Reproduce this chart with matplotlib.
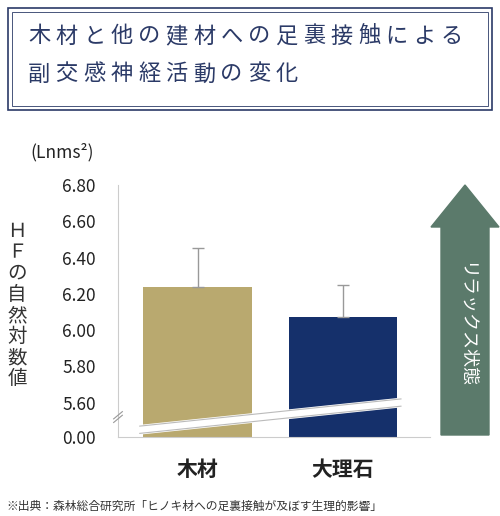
import matplotlib.pyplot as plt
from matplotlib.patches import Rectangle, FancyArrow
import numpy as np

plt.rcParams['font.family'] = ['Noto Sans CJK JP', 'DejaVu Sans']

categories = ['木材', '大理石']
values = [6.24, 6.07]
errors = [0.21, 0.18]
tick_vals = [5.60, 5.80, 6.00, 6.20, 6.40, 6.60, 6.80]
colors = ['#b9a96f', '#15306b']
navy = '#2b3a67'
ZERO = 5.41  # where 0.00 sits on the broken axis

fig = plt.figure(figsize=(5.0, 5.16), dpi=100)

# title box (double border)
fig.patches.append(Rectangle((8/500, 1-110/516), 484/500, 102/516, transform=fig.transFigure,
                             fill=False, ec=navy, lw=1.2))
fig.patches.append(Rectangle((12/500, 1-106/516), 476/500, 94/516, transform=fig.transFigure,
                             fill=False, ec=navy, lw=0.6))
title1 = '木材と他の建材への足裏接触による'
title2 = '副交感神経活動の変化'
for i, ch in enumerate(title1):
    fig.text((28 + i*27.5)/500, 1-36/516, ch, color=navy, fontsize=16, va='center')
for i, ch in enumerate(title2):
    fig.text((28 + i*27.5)/500, 1-74/516, ch, color=navy, fontsize=16, va='center')

ax = fig.add_axes([118/500, 1-437/516, 312/500, 252/516])
x = np.array([0, 1])
ax.bar(x, [v - ZERO for v in values], bottom=ZERO, width=0.75, color=colors, zorder=2)
ax.errorbar(x, values, yerr=[[0, 0], errors], fmt='none', ecolor='#999999', elinewidth=1,
            capsize=4, zorder=3)
ax.set_xlim(-0.55, 1.6)
ax.set_ylim(ZERO, 6.80)
ax.set_yticks([ZERO] + tick_vals)
ax.set_yticklabels(['0.00'] + ['%.2f' % t for t in tick_vals], fontsize=12.5, color='#222222')
ax.set_xticks(x)
ax.set_xticklabels(categories, fontsize=15, fontweight='bold', color='#222222')
for s in ['top', 'right']:
    ax.spines[s].set_visible(False)
ax.spines['left'].set_color('#cccccc')
ax.spines['bottom'].set_color('#cccccc')
ax.tick_params(length=0, pad=16)

# break band across the bars
ax.plot([-0.4, 1.4], [5.45, 5.60], color='white', lw=7, zorder=4, solid_capstyle='butt')
ax.plot([-0.4, 1.4], [5.43, 5.58], color='#bbbbbb', lw=0.8, zorder=5)
ax.plot([-0.4, 1.4], [5.47, 5.62], color='#bbbbbb', lw=0.8, zorder=5)
ax.plot([-0.58, -0.52], [5.49, 5.53], color='#999999', lw=0.8, clip_on=False, zorder=6)
ax.plot([-0.58, -0.52], [5.51, 5.55], color='#999999', lw=0.8, clip_on=False, zorder=6)

fig.text(30/500, 1-152/516, '(Lnms²)', fontsize=12.5, color='#222222', va='center')
fig.text(17/500, 1-305/516, '\n'.join('ＨＦの自然対数値'), fontsize=14, color='#333333',
         ha='center', va='center', linespacing=1.0)

# arrow
fig.patches.append(FancyArrow(465/500, 1-435/516, 0, 250/516, width=48/500, head_width=68/500,
                              head_length=42/516, length_includes_head=True,
                              transform=fig.transFigure, color='#5b7a6b'))
fig.text(465/500, 1-325/516, 'リラックス状態', rotation=-90, color='white', fontsize=13,
         ha='center', va='center')

fig.text(6/500, 1-506/516, '※出典：森林総合研究所「ヒノキ材への足裏接触が及ぼす生理的影響」',
         fontsize=8.5, color='#333333', va='center')

fig.savefig('out.png')
